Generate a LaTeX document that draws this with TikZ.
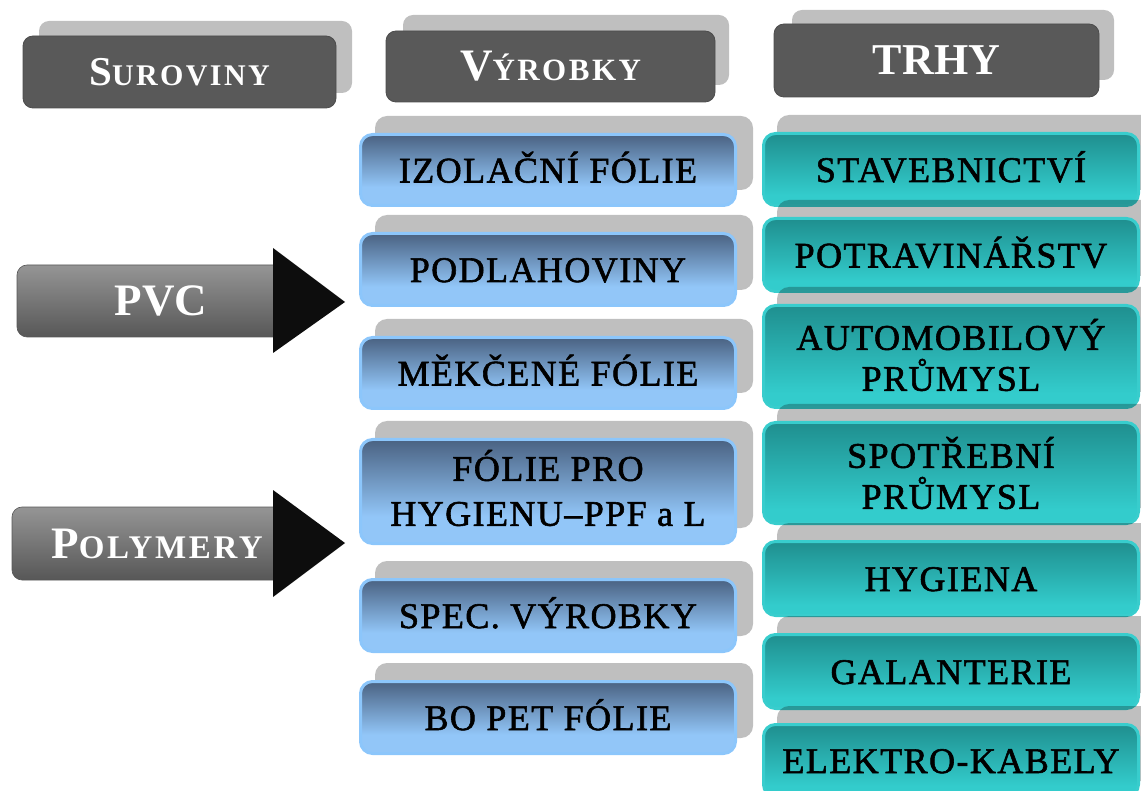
\documentclass[tikz,border=0pt]{standalone}
\usepackage{fontspec}
\setmainfont{Liberation Serif}
\newfontfamily\lblfont{Liberation Serif}[LetterSpace=4, FakeBold=1.6]
\newfontfamily\hdrfont{Liberation Serif Bold}[LetterSpace=8]
\newfontfamily\plainbold{Liberation Serif Bold}

\definecolor{hdrfill}{HTML}{595959}
\definecolor{hdredge}{HTML}{4C4C4C}
\definecolor{shadowgray}{HTML}{BFBFBF}
\definecolor{blueTop}{HTML}{4A6282}
\definecolor{blueBot}{HTML}{92C6F8}
\definecolor{blueEdge}{HTML}{8CC6FB}
\definecolor{tealTop}{HTML}{1F8F8F}
\definecolor{tealBot}{HTML}{33CCCC}
\definecolor{tealEdge}{HTML}{38CDCD}
\definecolor{grayTop}{HTML}{959595}
\definecolor{grayBot}{HTML}{575757}
\definecolor{arrowblack}{HTML}{0D0D0D}

% vertical shadings: the node spans 25bp (bottom) .. 75bp (top)
\pgfdeclareverticalshading{blueshade}{100bp}{color(0bp)=(blueBot); color(25bp)=(blueBot); color(38bp)=(blueBot); color(75bp)=(blueTop); color(100bp)=(blueTop)}
\pgfdeclareverticalshading{tealshade}{100bp}{color(0bp)=(tealBot); color(25bp)=(tealBot); color(32bp)=(tealBot); color(75bp)=(tealTop); color(100bp)=(tealTop)}
\pgfdeclareverticalshading{grayshade}{100bp}{color(0bp)=(grayBot); color(25bp)=(grayBot); color(75bp)=(grayTop); color(100bp)=(grayTop)}

\tikzset{
  boxshadow/.style={fill=black, fill opacity=0.25, draw=none, rounded corners=12pt, inner sep=0pt},
  hdrshadow/.style={fill=shadowgray, draw=none, rounded corners=10pt, inner sep=0pt},
  hdrbox/.style={fill=hdrfill, draw=hdredge, line width=0.8pt, rounded corners=10pt, inner sep=0pt, text=white},
  labelbox/.style={line width=3pt, rounded corners=12pt, minimum width=375pt,
    align=center, text=black, inner sep=0pt, font=\lblfont\fontsize{36}{41}\selectfont},
  prodbox/.style={labelbox, draw=blueEdge, shading=blueshade},
  mktbox/.style={labelbox, draw=tealEdge, shading=tealshade},
  oneline/.style={text height=25pt, text depth=0pt},
  twolines/.style={inner sep=0pt, align=center, text=black},
  srcbox/.style={draw=grayBot, line width=0.6pt, shading=grayshade,
    rounded corners=10pt, inner sep=0pt},
  srclabel/.style={text=white, inner sep=0pt},
  pointer/.style={fill=arrowblack, draw=none},
}

\begin{document}
\begin{tikzpicture}[x=1pt, y=-1pt]
\path[use as bounding box] (0,0) rectangle (1141,791);
\clip (0,0) rectangle (1141,791);

% ---------- column headers ----------
\node[hdrshadow, minimum width=313pt, minimum height=72pt] (hSurS) at (195.5,57) {};
\node[hdrbox, minimum width=313pt, minimum height=72pt] (hSur) at (179.5,72)
  {\hdrfont{\fontsize{41}{41}\selectfont S}{\fontsize{30}{30}\selectfont UROVINY}};

\node[hdrshadow, minimum width=326pt, minimum height=70pt] (hVyrS) at (566,50) {};
\node[hdrbox, minimum width=329pt, minimum height=71pt] (hVyr) at (550.5,66.5)
  {\hdrfont{\fontsize{45}{45}\selectfont V}{\fontsize{31}{31}\selectfont ÝROBKY}};

\node[hdrshadow, minimum width=322pt, minimum height=70pt] (hTrhS) at (953,45) {};
\node[hdrbox, minimum width=325pt, minimum height=73pt] (hTrh) at (936.5,60.5)
  {\plainbold\fontsize{44}{44}\selectfont TRHY};

% ---------- raw materials with pointers ----------
\node[srcbox, minimum width=280pt, minimum height=72pt] (pvc) at (157,301) {};
\node[srclabel] (pvcT) at (161,301) {\plainbold\fontsize{45}{45}\selectfont PVC};
\fill[pointer] (273,248) -- (345,302) -- (273,353) -- cycle;

\node[srcbox, minimum width=285pt, minimum height=73pt] (pol) at (154.5,543.5) {};
\node[srclabel] (polT) at (157,544)
  {\hdrfont{\fontsize{45}{45}\selectfont P}{\fontsize{33}{33}\selectfont OLYMERY}};
\fill[pointer] (273,490) -- (345,543) -- (273,597) -- cycle;

% ---------- products ----------
\node[boxshadow, minimum width=378pt, minimum height=74pt] (p1s) at (564,153) {};
\node[prodbox, oneline, minimum height=71pt] (p1) at (548,170) {IZOLAČNÍ FÓLIE};
\node[boxshadow, minimum width=378pt, minimum height=75pt] (p2s) at (564,252.5) {};
\node[prodbox, oneline, minimum height=72pt] (p2) at (548,269.5) {PODLAHOVINY};
\node[boxshadow, minimum width=378pt, minimum height=74pt] (p3s) at (564,356) {};
\node[prodbox, oneline, minimum height=71pt] (p3) at (548,373) {MĚKČENÉ FÓLIE};
\node[boxshadow, minimum width=378pt, minimum height=107pt] (p4s) at (564,474.5) {};
\node[prodbox, minimum height=104pt] (p4) at (548,491.5) {};
\node[twolines, font=\lblfont\fontsize{36}{45}\selectfont, yshift=3.5pt] (p4t) at (p4.center)
  {FÓLIE PRO\\HYGIENU–PPF a L};
\node[boxshadow, minimum width=378pt, minimum height=75pt] (p5s) at (564,598.5) {};
\node[prodbox, oneline, minimum height=72pt] (p5) at (548,615.5) {SPEC. VÝROBKY};
\node[boxshadow, minimum width=378pt, minimum height=75pt] (p6s) at (564,700.5) {};
\node[prodbox, oneline, minimum height=72pt] (p6) at (548,717.5) {BO PET FÓLIE};

% ---------- markets ----------
\node[boxshadow, minimum width=378pt, minimum height=75pt] (m1s) at (966,152.5) {};
\node[mktbox, oneline, minimum height=72pt] (m1) at (951,169.5) {STAVEBNICTVÍ};
\node[boxshadow, minimum width=378pt, minimum height=76pt] (m2s) at (966,238) {};
\node[mktbox, oneline, minimum height=73pt] (m2) at (951,255) {POTRAVINÁŘSTV};
\node[boxshadow, minimum width=378pt, minimum height=105pt] (m3s) at (966,339.5) {};
\node[mktbox, minimum height=102pt] (m3) at (951,356.5) {};
\node[twolines, font=\lblfont\fontsize{36}{41}\selectfont, yshift=1.5pt] (m3t) at (m3.center)
  {AUTOMOBILOVÝ\\PRŮMYSL};
\node[boxshadow, minimum width=378pt, minimum height=104pt] (m4s) at (966,456) {};
\node[mktbox, minimum height=101pt] (m4) at (951,473) {};
\node[twolines, font=\lblfont\fontsize{36}{41}\selectfont] (m4t) at (m4.center)
  {SPOTŘEBNÍ\\PRŮMYSL};
\node[boxshadow, minimum width=378pt, minimum height=77pt] (m5s) at (966,561.5) {};
\node[mktbox, oneline, minimum height=74pt] (m5) at (951,578.5) {HYGIENA};
\node[boxshadow, minimum width=378pt, minimum height=77pt] (m6s) at (966,654.5) {};
\node[mktbox, oneline, minimum height=74pt] (m6) at (951,671.5) {GALANTERIE};
\node[boxshadow, minimum width=378pt, minimum height=75pt] (m7s) at (966,743.5) {};
\node[mktbox, oneline, minimum height=72pt] (m7) at (951,760.5) {ELEKTRO-KABELY};
\end{tikzpicture}
\end{document}
